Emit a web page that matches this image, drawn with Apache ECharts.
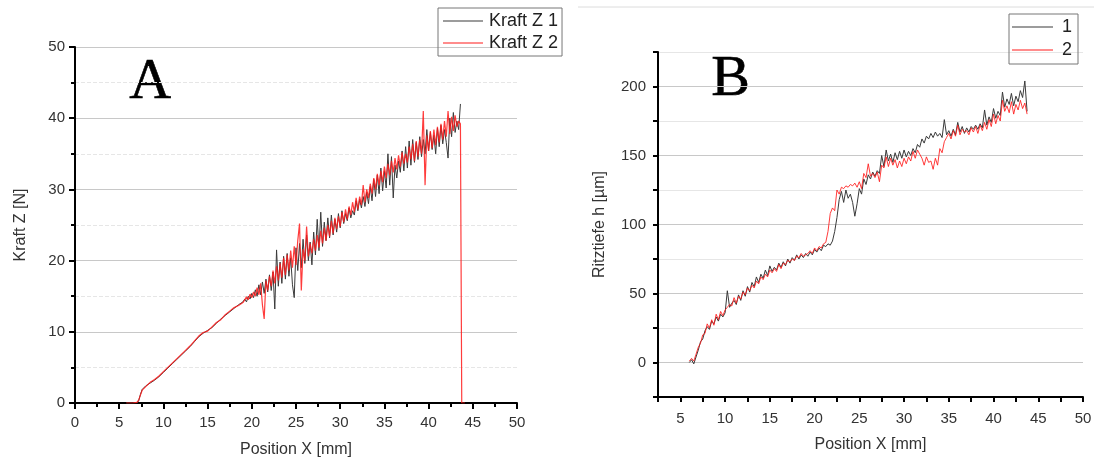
<!DOCTYPE html>
<html>
<head>
<meta charset="utf-8">
<script src="https://cdn.jsdelivr.net/npm/echarts@6/dist/echarts.min.js"></script>
<style>html,body{margin:0;padding:0;background:#fff}#c{width:1094px;height:461px}</style>
</head>
<body>
<div id="c"></div>
<script>
// ---------- Panel A data ----------
const posA = [5.8,6.5,7.0,7.2,7.4,7.6,8,8.5,9,9.5,10,10.5,11,11.5,12,12.5,13,13.5,14,14.5,15,15.5,16,16.5,17,17.5,18,18.5,19,
19.2,19.4,19.6,19.8,20,20.2,20.4,20.6,20.8,21,21.2,21.4,21.6,21.8,22,22.2,22.4,22.6,22.8,23,23.2,23.4,23.6,23.8,24,24.2,24.4,24.6,24.8,25,25.2,25.4,25.6,25.8,26,26.2,26.4,26.6,26.8,27,27.2,27.4,27.6,27.8,28,28.2,28.4,28.6,28.8,29,29.2,29.4,29.6,29.8,30,30.2,30.4,30.6,30.8,31,31.2,31.4,31.6,31.8,32,32.2,32.4,32.6,32.8,33,33.2,33.4,33.6,33.8,34,34.2,34.4,34.6,34.8,35,35.2,35.4,35.6,35.8,36,36.2,36.4,36.6,36.8,37,37.2,37.4,37.6,37.8,38,38.2,38.4,38.6,38.8,39,39.2,39.4,39.6,39.8,40,40.2,40.4,40.6,40.8,41,41.2,41.4,41.6,41.8,42,42.2,42.4,42.6,42.8,43,43.2,43.4,43.6];
const kraftZ1 = [0,0,0,0.3,1.2,1.9,2.4,2.8,3.2,3.7,4.3,4.9,5.5,6.1,6.7,7.3,7.9,8.6,9.3,9.8,10.2,10.6,11.2,11.8,12.3,12.8,13.3,13.8,14.2,
14.6,14.2,15.0,14.6,15.4,14.8,15.9,15.0,16.6,15.2,
17.0,15.4,17.4,15.6,18.0,15.8,18.4,13.2,21.5,16.4,
19.8,16.8,20.6,17.4,21.0,17.8,20.4,16.6,14.8,21.8,
18.6,22.4,19.0,23.0,19.6,23.6,20.0,22.6,19.4,24.0,
20.8,25.8,21.4,26.8,22.0,25.4,22.8,26.0,23.2,26.4,
23.6,25.8,24.0,26.6,24.6,27.0,25.2,26.6,25.6,27.4,
26.0,27.0,26.4,28.4,27.0,28.6,27.4,29.0,27.6,29.6,
28.0,30.4,28.4,31.4,29.0,32.0,29.4,33.0,29.8,32.6,
30.2,35.0,30.6,34.6,28.8,33.4,31.6,34.0,32.4,35.4,
32.6,36.0,33.0,36.8,33.4,37.0,33.8,36.6,34.2,37.4,
34.6,37.0,35.0,38.4,35.4,38.0,35.6,37.6,35.0,38.6,
36.0,39.0,36.4,38.4,36.6,34.4,40.0,37.4,40.8,38.0,
39.6,38.4,42.0];
const kraftZ2 = [0,0,0.1,0.4,1.1,1.8,2.3,2.9,3.3,3.8,4.4,5.0,5.6,6.2,6.8,7.4,8.0,8.7,9.4,9.9,10.1,10.7,11.3,11.7,12.4,12.9,13.4,13.7,14.1,
14.3,14.9,14.5,15.3,14.8,15.6,15.0,16.2,15.2,16.8,
13.8,11.8,17.2,15.8,17.8,16.4,18.6,16.8,19.2,17.2,
19.6,17.6,20.4,18.0,20.8,18.6,21.4,19.0,22.0,19.4,
22.8,25.2,15.8,21.6,20.0,24.8,20.6,22.4,21.0,23.0,
21.4,23.6,21.8,24.2,22.4,24.6,22.8,25.0,23.4,25.6,
23.8,26.0,24.4,26.2,24.8,26.8,25.4,27.2,25.8,27.6,
26.4,28.2,26.8,28.8,27.2,29.0,27.8,30.6,28.2,30.0,
28.8,30.8,29.4,31.6,30.0,32.2,30.6,32.6,31.0,33.2,
31.6,33.6,32.0,34.0,32.4,34.4,32.8,34.8,33.2,35.2,
33.6,35.0,33.8,36.0,34.2,36.4,34.0,36.8,34.6,37.0,
35.0,41.0,30.6,37.6,35.4,38.2,35.8,38.4,36.2,38.8,
36.6,39.2,37.0,39.6,37.4,41.0,37.8,40.2,38.2,40.4,
38.8,39.6,39.2];
const kraftZ2TailX = [43.75, 44.1];
const kraftZ2TailY = [0, 0];

// ---------- Panel B data ----------
const posB = [6,6.25,6.5,6.75,7,7.25,7.5,7.75,8,8.25,8.5,8.75,9,9.25,9.5,9.75,10,10.25,10.5,10.75,11,11.25,11.5,11.75,12,12.25,12.5,12.75,13,13.25,13.5,13.75,14,14.25,14.5,14.75,15,15.25,15.5,15.75,16,16.25,16.5,16.75,17,17.25,17.5,17.75,18,18.25,18.5,18.75,19,19.25,19.5,19.75,20,20.25,20.5,20.75,21,21.25,21.5,21.75,22,22.25,22.5,22.75,23,23.25,23.5,23.75,24,24.25,24.5,24.75,25,25.25,25.5,25.75,26,26.25,26.5,26.75,27,27.25,27.5,27.75,28,28.25,28.5,28.75,29,29.25,29.5,29.75,30,30.25,30.5,30.75,31,31.25,31.5,31.75,32,32.25,32.5,32.75,33,33.25,33.5,33.75,34,34.25,34.5,34.75,35,35.25,35.5,35.75,36,36.25,36.5,36.75,37,37.25,37.5,37.75,38,38.25,38.5,38.75,39,39.25,39.5,39.75,40,40.25,40.5,40.75,41,41.25,41.5,41.75,42,42.25,42.5,42.75,43,43.25,43.5,43.75];
const tiefe1 = [0,2,-1,4,9,15,17,23,26,24,
30,28,33,30,35,33,36,52,40,43,
45,42,49,45,52,48,55,51,58,55,
62,58,64,61,67,63,70,66,69,67,
72,69,73,70,75,72,76,74,78,75,
78,76,79,77,80,78,82,80,83,81,
85,84,86,85,88,95,105,118,124,116,
125,119,122,116,106,115,126,122,133,129,
136,133,138,135,139,137,150,142,154,146,
151,145,152,147,153,148,154,149,153,150,
155,152,158,156,162,159,164,162,166,163,
167,164,166,163,176,165,168,164,169,165,
174,167,171,166,170,167,171,169,172,169,
173,170,183,172,178,174,184,177,182,179,
196,185,191,187,195,186,193,189,197,192,
204,182];
const tiefe2 = [1,3,1,6,11,14,20,21,28,25,
31,27,35,31,37,34,38,40,42,41,
47,43,48,46,51,49,54,52,56,54,
59,57,62,60,64,62,67,65,68,66,
71,68,72,71,74,73,75,74,77,76,
79,77,78,79,81,79,83,81,84,83,
86,87,95,108,112,110,125,122,127,126,
128,127,129,128,130,127,131,126,137,134,
144,135,137,134,138,131,143,141,149,142,
148,143,147,141,146,142,148,144,149,146,
153,148,154,151,148,143,149,145,146,140,
148,143,155,152,160,163,166,162,168,164,
172,165,169,167,168,165,170,167,171,166,
172,168,174,169,176,171,180,173,179,175,
190,182,186,181,189,180,187,183,190,184,
188,180];

const FONT = '"Liberation Sans", Arial, sans-serif';
const pair = (xs, ys) => xs.map((x, i) => [x, ys[i]]);

const chart = echarts.init(document.getElementById('c'));
const axisLineStyle = { show: true, onZero: false, lineStyle: { color: '#000', width: 2 } };
const labelStyle = { color: '#333', fontSize: 15, fontFamily: FONT };
const nameStyle = { color: '#333', fontSize: 16, fontFamily: FONT };

chart.setOption({
  animation: false,
  backgroundColor: '#fff',
  grid: [
    { left: 75, top: 47, width: 442, height: 356, outerBoundsMode: 'none', containLabel: false },
    { left: 658, top: 52, width: 425, height: 345, outerBoundsMode: 'none', containLabel: false }
  ],
  xAxis: [
    {
      gridIndex: 0, type: 'value', min: 0, max: 50, interval: 5,
      name: 'Position X [mm]', nameLocation: 'middle', nameGap: 39, nameTextStyle: nameStyle,
      axisLine: axisLineStyle,
      axisTick: { show: true, inside: false, length: 6, lineStyle: { color: '#000', width: 2 } },
      minorTick: { show: true, splitNumber: 2, length: 4, lineStyle: { color: '#000', width: 2 } },
      axisLabel: Object.assign({ margin: 12 }, labelStyle),
      splitLine: { show: false }
    },
    {
      gridIndex: 1, type: 'value', min: 2.5, max: 50, interval: 2.5,
      name: 'Position X [mm]', nameLocation: 'middle', nameGap: 40, nameTextStyle: nameStyle,
      axisLine: axisLineStyle,
      axisTick: { show: true, length: 5, lineStyle: { color: '#000', width: 2 } },
      axisLabel: Object.assign({ margin: 14, formatter: v => (Math.abs(v % 5) < 1e-9 ? String(v) : '') }, labelStyle),
      splitLine: { show: false }
    }
  ],
  yAxis: [
    {
      gridIndex: 0, type: 'value', min: 0, max: 50, interval: 10,
      name: 'Kraft Z [N]', nameLocation: 'middle', nameGap: 46, nameTextStyle: nameStyle,
      axisLine: axisLineStyle,
      axisTick: { show: true, length: 6, lineStyle: { color: '#000', width: 2 } },
      minorTick: { show: true, splitNumber: 2, length: 4, lineStyle: { color: '#000', width: 2 } },
      axisLabel: Object.assign({ margin: 10 }, labelStyle),
      splitLine: { show: true, lineStyle: { color: '#c8c8c8', width: 1 } },
      minorSplitLine: { show: true, lineStyle: { color: '#e6e6e6', width: 1, type: 'dashed' } }
    },
    {
      gridIndex: 1, type: 'value', min: -25, max: 225, interval: 25,
      name: 'Ritztiefe h [µm]', nameLocation: 'middle', nameGap: 50, nameTextStyle: nameStyle,
      axisLine: axisLineStyle,
      axisTick: { show: true, length: 5, lineStyle: { color: '#000', width: 2 } },
      axisLabel: Object.assign({ margin: 12, formatter: v => (Math.abs(v % 50) < 1e-9 ? String(v) : '') }, labelStyle),
      splitLine: { show: true, lineStyle: { color: ['#e6e6e6', '#c8c8c8'], width: 1 } }
    }
  ],
  legend: [
    {
      data: [{ name: 'Kraft Z 1', icon: 'rect' }, { name: 'Kraft Z 2', icon: 'rect' }],
      orient: 'vertical', left: 438, top: 8,
      itemWidth: 40, itemHeight: 1, itemGap: 4,
      padding: [4, 4, 4, 5], borderColor: '#777', borderWidth: 1,
      textStyle: { fontSize: 18, color: '#222', fontFamily: FONT, padding: [0, 0, 0, 1] }
    },
    {
      data: [{ name: '1', icon: 'rect' }, { name: '2', icon: 'rect' }],
      orient: 'vertical', left: 1009, top: 14,
      itemWidth: 41, itemHeight: 1, itemGap: 5,
      padding: [4, 6, 5, 3], borderColor: '#777', borderWidth: 1,
      textStyle: { fontSize: 18, color: '#222', fontFamily: FONT, padding: [0, 0, 0, 4] }
    }
  ],
  graphic: [
    { type: 'line', shape: { x1: 578, y1: 7, x2: 1094, y2: 7 }, style: { stroke: '#dcdcdc', lineWidth: 1 } },
    { type: 'text', left: 129, top: 53, style: { text: 'A', font: '58px "Liberation Serif", "DejaVu Serif", serif', fill: '#000', stroke: '#000', lineWidth: 0.6, shadowColor: 'rgba(0,0,0,0.45)', shadowBlur: 3, shadowOffsetX: 2, shadowOffsetY: 2 } },
    { type: 'text', left: 711, top: 50, style: { text: 'B', font: '58px "Liberation Serif", "DejaVu Serif", serif', fill: '#000', stroke: '#000', lineWidth: 0.6, shadowColor: 'rgba(0,0,0,0.45)', shadowBlur: 3, shadowOffsetX: 2, shadowOffsetY: 2 } }
  ],
  series: [
    { name: 'Kraft Z 1', type: 'line', xAxisIndex: 0, yAxisIndex: 0, showSymbol: false, symbol: 'none',
      data: pair(posA, kraftZ1), lineStyle: { color: '#3a3a3a', width: 1 }, itemStyle: { color: '#3a3a3a' } },
    { name: 'Kraft Z 2', type: 'line', xAxisIndex: 0, yAxisIndex: 0, showSymbol: false, symbol: 'none',
      data: pair(posA, kraftZ2).concat(pair(kraftZ2TailX, kraftZ2TailY)), lineStyle: { color: '#ff1a1a', width: 1.2, opacity: 0.85 }, itemStyle: { color: '#ff1a1a' } },
    { name: '1', type: 'line', xAxisIndex: 1, yAxisIndex: 1, showSymbol: false, symbol: 'none',
      data: pair(posB, tiefe1), lineStyle: { color: '#3a3a3a', width: 1 }, itemStyle: { color: '#3a3a3a' } },
    { name: '2', type: 'line', xAxisIndex: 1, yAxisIndex: 1, showSymbol: false, symbol: 'none',
      data: pair(posB, tiefe2), lineStyle: { color: '#ff1a1a', width: 1, opacity: 0.85 }, itemStyle: { color: '#ff1a1a' } }
  ]
});
</script>
</body>
</html>
